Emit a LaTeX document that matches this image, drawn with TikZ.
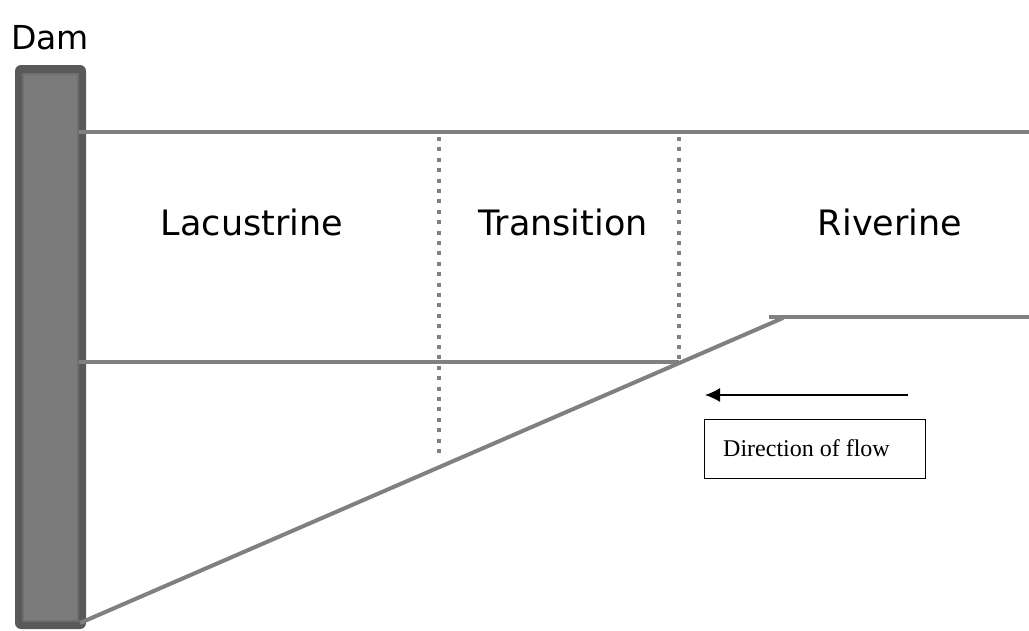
\documentclass[tikz,border=0pt]{standalone}
\usepackage{fontspec}
\setmainfont{DejaVu Sans}
\newfontfamily\timesfont{Liberation Serif}
\usetikzlibrary{arrows.meta}
\definecolor{linegray}{HTML}{808080}
\definecolor{damdark}{HTML}{595959}
\definecolor{damfill}{HTML}{7B7B7B}
\definecolor{damedge}{HTML}{6E6E6E}
\tikzset{
  shoreline/.style={draw=linegray, line width=4pt},
  zoneline/.style={draw=linegray, line width=4pt, dash pattern=on 4pt off 6.4pt},
  zonelabel/.style={font=\fontsize{35}{40}\selectfont, anchor=base, inner sep=0pt},
  flowbox/.style={draw=black, line width=1pt, minimum width=221pt, minimum height=59pt, inner sep=0pt, font=\timesfont\fontsize{24}{27}\selectfont},
  flowarrow/.style={draw=black, line width=1.5pt, -{Latex[length=15pt,width=14pt]}}
}
\begin{document}
\begin{tikzpicture}[x=1pt,y=-1pt]
\useasboundingbox (0,0) rectangle (1029,630);
% dam
\fill[damdark, rounded corners=6pt] (15,65) rectangle (86,629);
\draw[damedge, line width=2.5pt, fill=damfill] (23,74) rectangle (78,621);
% coordinates
\coordinate (tl) at (79,132);
\coordinate (tr) at (1029,132);
\coordinate (ml) at (79,362);
\coordinate (mr) at (679,362);
\coordinate (sb) at (80,623);
\coordinate (st) at (783,318);
\coordinate (hl) at (769,317);
\coordinate (hr) at (1029,317);
\coordinate (d1t) at (439,137);
\coordinate (d1b) at (439,455);
\coordinate (d2t) at (679,137);
\coordinate (d2b) at (679,360);
% lines
\draw[shoreline] (tl) -- (tr);
\draw[shoreline] (ml) -- (mr);
\draw[shoreline] (sb) -- (st);
\draw[shoreline] (hl) -- (hr);
\draw[zoneline] (d1t) -- (d1b);
\draw[zoneline] (d2t) -- (d2b);
% labels
\node[anchor=base west, inner sep=0pt, font=\fontsize{33}{36}\selectfont] (dam) at (11,49) {Dam};
\node[zonelabel] (lac) at (252,235) {Lacustrine};
\node[zonelabel] (tra) at (563,235) {Transition};
\node[zonelabel] (riv) at (890,235) {Riverine};
% flow
\coordinate (as) at (908,395);
\coordinate (ae) at (705,395);
\draw[flowarrow] (as) -- (ae);
\node[flowbox] (flow) at (814.5,448.5) {\hspace*{-16pt}Direction of flow};
\end{tikzpicture}
\end{document}
